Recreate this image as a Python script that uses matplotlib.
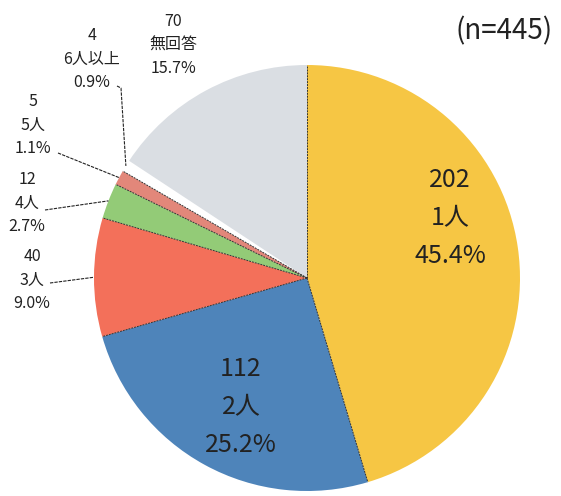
import numpy as np
import matplotlib
matplotlib.use("Agg")
import matplotlib.pyplot as plt

plt.rcParams['font.family'] = ['Noto Sans CJK JP', 'DejaVu Sans']

categories = ["1人", "2人", "3人", "4人", "5人", "6人以上", "無回答"]
counts = [202, 112, 40, 12, 5, 4, 70]
percents = ["45.4%", "25.2%", "9.0%", "2.7%", "1.1%", "0.9%", "15.7%"]
total_label = "(n=445)"

colors = ["#F6C644", "#4E84BA", "#F3705A", "#93CB77", "#E2877A", "#FFFFFF", "#DADEE3"]

W, H = 561, 496
CX, CY, R = 307, 278, 213

fig = plt.figure(figsize=(W / 100, H / 100), dpi=100)
ax = fig.add_axes([0, 0, 1, 1])


def p(px, py):
    return ((px - CX) / R, (CY - py) / R)


wedges, _ = ax.pie(counts, colors=colors, startangle=90, counterclock=False,
                   radius=1.0, center=(0, 0), frame=True,
                   wedgeprops=dict(edgecolor="none", linewidth=0))
ax.set_xlim(-CX / R, (W - CX) / R)
ax.set_ylim((CY - H) / R, CY / R)
ax.set_aspect("auto")
ax.axis("off")

# boundary lines between slices
tot = sum(counts)
cum = np.concatenate([[0], np.cumsum(counts)])
for i, c in enumerate(cum[:-1]):
    ang = np.deg2rad(90 - c / tot * 360)
    if i == 6:
        continue
    ax.plot([0, np.cos(ang)], [0, np.sin(ang)], color="#333333", lw=0.7,
            linestyle=(0, (2, 1)), zorder=3)

# inner labels
big = 18
ax.text(*p(450, 218), f"{counts[0]}\n{categories[0]}\n{percents[0]}",
        ha="center", va="center", fontsize=big, linespacing=1.6, color="#222222")
ax.text(*p(241, 407), f"{counts[1]}\n{categories[1]}\n{percents[1]}",
        ha="center", va="center", fontsize=big, linespacing=1.6, color="#222222")

# outer labels with leader lines
small = 11.5


def mid_point(i):
    m = (cum[i] + counts[i] / 2) / tot
    ang = np.deg2rad(90 - m * 360)
    return np.cos(ang), np.sin(ang)


outer = {
    6: ((173, 45), None),
    5: ((92, 59), [(117, 86), (121, 88)]),
    4: ((33, 125), [(58, 153)]),
    3: ((27, 203), [(45, 210)]),
    2: ((32, 280), [(50, 283)]),
}
for i, ((tx, ty), path) in outer.items():
    ax.text(*p(tx, ty), f"{counts[i]}\n{categories[i]}\n{percents[i]}",
            ha="center", va="center", fontsize=small, linespacing=1.5,
            color="#222222")
    if path is not None:
        pts = [p(*q) for q in path] + [mid_point(i)]
        xs, ys = zip(*pts)
        ax.plot(xs, ys, color="#222222", lw=0.8, linestyle=(0, (3, 1)), zorder=4)

ax.text(*p(504, 31), total_label, ha="center", va="center", fontsize=20,
        color="#222222")

fig.savefig("out.png", dpi=100)
